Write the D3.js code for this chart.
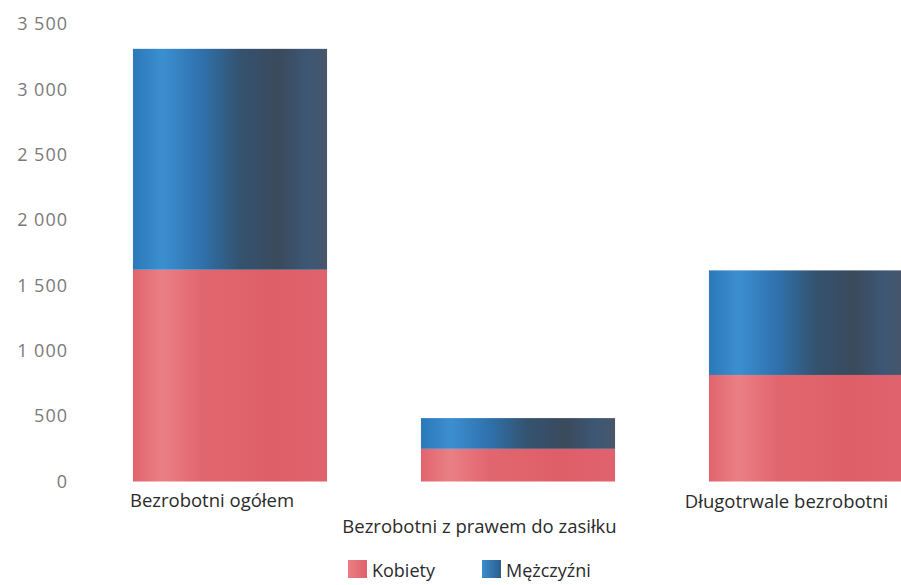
<!DOCTYPE html>
<html><head><meta charset="utf-8">
<script src="https://cdn.jsdelivr.net/npm/d3@7"></script>
<style>
html,body{margin:0;padding:0;background:#fff;overflow:hidden;}
svg{display:block;font-family:"Open Sans","DejaVu Sans",sans-serif;}
</style></head>
<body>
<svg id="chart" width="901" height="585"></svg>
<script>
const categories = ["Bezrobotni ogółem", "Bezrobotni z prawem do zasiłku", "Długotrwale bezrobotni"];
const kobiety = [1620, 250, 815];
const mezczyzni = [1690, 235, 800];
const seriesNames = ["Kobiety", "Mężczyźni"];
const yTicks = [0, 500, 1000, 1500, 2000, 2500, 3000, 3500];

const svg = d3.select("#chart");
const defs = svg.append("defs");

function grad(id, stops) {
  const g = defs.append("linearGradient").attr("id", id).attr("x1", "0%").attr("x2", "100%").attr("y1", "0%").attr("y2", "0%");
  stops.forEach(s => g.append("stop").attr("offset", s[0]).attr("stop-color", s[1]));
}
grad("gBlue", [["0%", "#2c78b8"], ["15%", "#3b8fd0"], ["35%", "#2f72ad"], ["55%", "#34526f"], ["75%", "#3a4a5c"], ["90%", "#3c5775"], ["100%", "#48566a"]]);
grad("gRed", [["0%", "#e1646d"], ["15%", "#ea7f86"], ["35%", "#e2666f"], ["70%", "#df5f69"], ["100%", "#e0626c"]]);
grad("gBlueL", [["0%", "#3a8ed0"], ["100%", "#2c5d8c"]]);
grad("gRedL", [["0%", "#ea7f86"], ["100%", "#e0606a"]]);

const x = d3.scaleBand().domain(categories).range([86, 950]).paddingInner(0.326).paddingOuter(0.163);
const y = d3.scaleLinear().domain([0, 3500]).range([481.5, 24]);

// y axis labels
const yAxis = d3.axisLeft(y).tickValues(yTicks).tickSize(0).tickPadding(0)
  .tickFormat(d => d3.format(",")(d).replace(/,/g, " "));
const ya = svg.append("g").attr("transform", "translate(68,0)").call(yAxis);
ya.select(".domain").remove();
ya.selectAll("text").attr("font-size", 18).attr("letter-spacing", 1).attr("fill", "#7a7a7a").attr("font-family", "\"Open Sans\",sans-serif");

const data = categories.map((c, i) => ({cat: c, k: kobiety[i], m: mezczyzni[i]}));
const stack = d3.stack().keys(["k", "m"])(data);
const fills = ["url(#gRed)", "url(#gBlue)"];

svg.append("g").selectAll("g").data(stack).join("g")
  .attr("fill", (d, i) => fills[i])
  .selectAll("rect").data(d => d).join("rect")
  .attr("x", d => x(d.data.cat))
  .attr("width", x.bandwidth())
  .attr("y", d => y(d[1]))
  .attr("height", d => y(d[0]) - y(d[1]));

// category labels (staggered, as in reference)
const labOff = [{dx: -18, y: 507}, {dx: -38.5, y: 533}, {dx: -19.5, y: 508}];
svg.append("g").selectAll("text").data(categories).join("text")
  .attr("x", (d, i) => x(d) + x.bandwidth() / 2 + labOff[i].dx)
  .attr("y", (d, i) => labOff[i].y)
  .attr("text-anchor", "middle")
  .attr("font-size", 18.5)
  .attr("fill", "#2b2b2b")
  .text(d => d);

// legend
const legend = svg.append("g").attr("transform", "translate(348,560)");
const legX = [0, 134];
const legFill = ["url(#gRedL)", "url(#gBlueL)"];
seriesNames.forEach((s, i) => {
  const g = legend.append("g").attr("transform", `translate(${legX[i]},0)`);
  g.append("rect").attr("width", 19).attr("height", 18).attr("fill", legFill[i]);
  g.append("text").attr("x", 24).attr("y", 17).attr("font-size", 18).attr("fill", "#2b2b2b").text(s);
});
</script>
</body></html>
